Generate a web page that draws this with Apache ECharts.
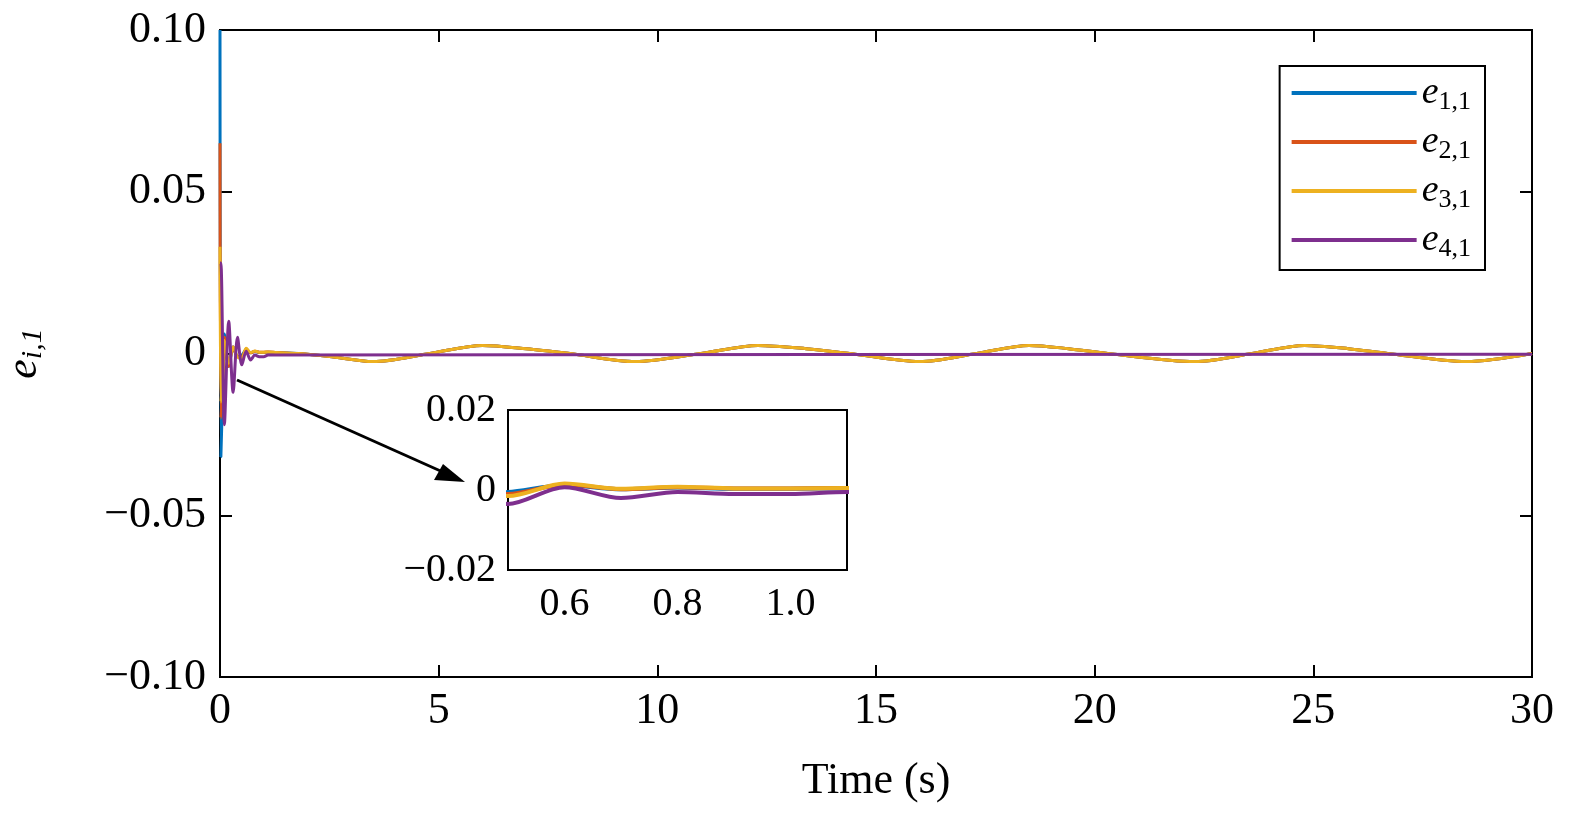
<!DOCTYPE html>
<html><head><meta charset="utf-8">
<script src="https://cdn.jsdelivr.net/npm/echarts@6/dist/echarts.min.js"></script>
<style>body{margin:0}#c{width:1575px;height:820px}</style></head>
<body><div id="c"></div>
<script>
const names = ['e1,1','e2,1','e3,1','e4,1'];
const colors = ['#0072BD','#D95319','#EDB120','#7E2F8E'];
// slow oscillation common part (t >= 1.1)
const slowT = [1.3,1.8,2.5,3.5,4.8,6.0,7.0,8.0,9.5,11.0,12.3,13.4,14.4,16.0,17.3,18.5,19.4,20.3,22.3,23.6,24.8,25.8,26.7,28.5,30];
const slowV = [0.0003,0,-0.0009,-0.0025,0,0.0025,0.0015,0,-0.0025,0,0.0025,0.0015,0,-0.0025,0,0.0025,0.0015,0,-0.0025,0,0.0025,0.0015,0,-0.0025,0];
const e11T = [0,0.02,0.06,0.1,0.2,0.3,0.4,0.5,0.6,0.7,0.8,0.9,1.0,1.1];
const e11V = [0.1,-0.032,-0.012,0.006,-0.004,0.002,-0.001,-0.0005,0.0012,0.0002,0.0006,0.0003,0.0003,0.0004];
const e21T = [0,0.02,0.06,0.1,0.2,0.3,0.4,0.5,0.6,0.7,0.8,0.9,1.0,1.1];
const e21V = [0.065,-0.02,-0.01,0.005,-0.004,0.002,-0.001,-0.001,0.0014,0.0002,0.0007,0.0004,0.0004,0.0005];
const e31T = [0,0.02,0.06,0.1,0.2,0.3,0.4,0.5,0.6,0.7,0.8,0.9,1.0,1.1];
const e31V = [0.033,-0.015,-0.008,0.004,-0.003,0.002,-0.001,-0.0015,0.0016,0.0003,0.0008,0.0004,0.0004,0.0005];
const e41T = [0,0.02,0.1,0.2,0.3,0.4,0.5,0.6,0.7,0.8,0.9,1.0,1.1,30];
const e41V = [0.028,0.028,-0.022,0.010,-0.012,0.005,-0.0035,0.0007,-0.002,-0.0005,-0.001,-0.001,-0.0005,-0.0002];
const xTicks = [0,5,10,15,20,25,30];
const yTicks = [-0.1,-0.05,0,0.05,0.1];

function zip(t,v){return t.map((x,i)=>[x,v[i]]);}
const tail = zip(slowT,slowV);
const data = [
  zip(e11T,e11V).concat(tail),
  zip(e21T,e21V).concat(tail),
  zip(e31T,e31V).concat(tail),
  zip(e41T,e41V)
];
const font = 'Liberation Serif';
const rich = {e:{fontFamily:font,fontStyle:'italic',fontSize:38,color:'#000'},s:{fontFamily:font,fontSize:26,color:'#000',verticalAlign:'bottom',padding:[18,0,0,0]}};
const series = [];
data.forEach((d,i)=>{
  series.push({name:names[i],type:'line',data:d,showSymbol:false,smooth:0.3,xAxisIndex:0,yAxisIndex:0,lineStyle:{color:colors[i],width:3},itemStyle:{color:colors[i]},z:2+i});
  series.push({name:names[i]+'_in',type:'line',data:d,showSymbol:false,smooth:0.3,xAxisIndex:1,yAxisIndex:1,lineStyle:{color:colors[i],width:4},itemStyle:{color:colors[i]},z:10+i,clip:true});
});
const axisCommon = {axisLine:{onZero:false,lineStyle:{color:'#000',width:2}},axisTick:{inside:true,length:12,lineStyle:{color:'#000',width:2}},splitLine:{show:false},axisLabel:{color:'#000',fontFamily:font,fontSize:44}};
const fmtY = v=>{if(Math.abs(v)<1e-9)return '0';return (v<0?'\u22120':'0')+Math.abs(v).toFixed(2).slice(1);};
const chart = echarts.init(document.getElementById('c'));
chart.setOption({
  animation:false,
  grid:[{left:220,right:43,top:30,bottom:143,show:true,borderColor:'#000',borderWidth:2,containLabel:false,outerBoundsMode:'none'},
        {left:508,top:410,width:339,height:160,show:true,borderColor:'#000',borderWidth:2,backgroundColor:'#fff',z:9,outerBoundsMode:'none'}],
  legend:{data:names,orient:'vertical',right:90,top:66,itemWidth:125,itemHeight:4,itemGap:8,icon:'rect',
    borderColor:'#000',borderWidth:2,padding:[8,14,8,12],backgroundColor:'#fff',
    formatter:n=>'{e|e}{s|'+n.slice(1)+'}',textStyle:{rich:rich}},
  xAxis:[
    Object.assign({},axisCommon,{type:'value',min:0,max:30,interval:5,gridIndex:0,
      name:'Time (s)',nameLocation:'middle',nameGap:82,nameTextStyle:{fontFamily:font,fontSize:44,color:'#000'},
      axisLabel:Object.assign({},axisCommon.axisLabel,{margin:12,formatter:v=>xTicks.includes(v)?String(v):''})}),
    Object.assign({},axisCommon,{type:'value',min:0.5,max:1.1,interval:0.1,gridIndex:1,
      axisTick:{inside:true,length:6,lineStyle:{color:'#000',width:2},customValues:[0.6,0.8,1.0]},
      axisLabel:Object.assign({},axisCommon.axisLabel,{fontSize:40,margin:14,customValues:[0.6,0.8,1.0],formatter:v=>v.toFixed(1)})}),
    Object.assign({},axisCommon,{type:'value',min:0,max:30,interval:5,gridIndex:0,position:'top',axisLabel:{show:false}})
  ],
  yAxis:[
    Object.assign({},axisCommon,{type:'value',min:-0.1,max:0.1,interval:0.05,gridIndex:0,
      name:'{e|e}{s|i,1}',nameLocation:'middle',nameGap:172,nameRotate:90,
      nameTextStyle:{rich:{e:{fontFamily:font,fontStyle:'italic',fontSize:44,color:'#000'},s:{fontFamily:font,fontStyle:'italic',fontSize:30,color:'#000',padding:[18,0,0,0]}}},
      axisLabel:Object.assign({},axisCommon.axisLabel,{margin:14,formatter:fmtY})}),
    Object.assign({},axisCommon,{type:'value',min:-0.02,max:0.02,interval:0.02,gridIndex:1,
      axisTick:{show:false},
      axisLabel:Object.assign({},axisCommon.axisLabel,{fontSize:40,margin:12,formatter:fmtY})}),
    Object.assign({},axisCommon,{type:'value',min:-0.1,max:0.1,interval:0.05,gridIndex:0,position:'right',axisLabel:{show:false}})
  ],
  graphic:[
    {type:'line',shape:{x1:237,y1:380,x2:445,y2:473},style:{stroke:'#000',lineWidth:3},z:100},
    {type:'polygon',shape:{points:[[465,482],[434,480],[443,464]]},style:{fill:'#000'},z:100}
  ],
  series:series
});
</script></body></html>
